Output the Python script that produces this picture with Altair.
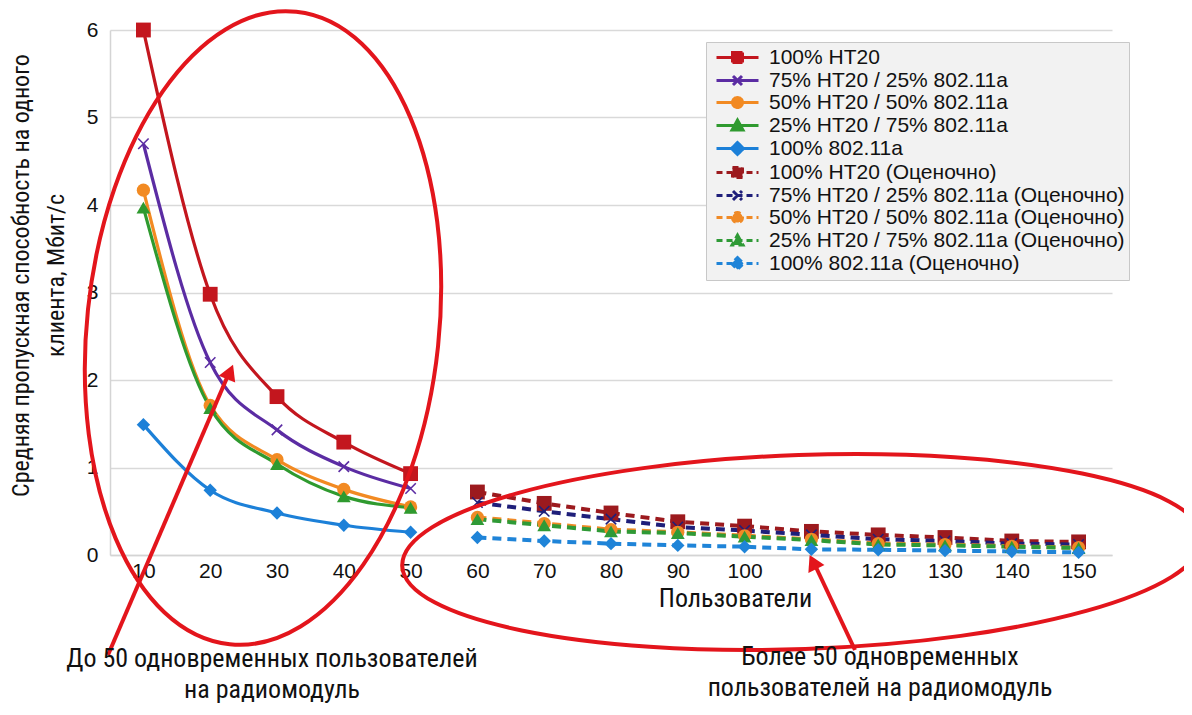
import altair as alt
import pandas as pd

# ---------------- data ----------------
users_measured = [10, 20, 30, 40, 50]
users_est = [60, 70, 80, 90, 100, 110, 120, 130, 140, 150]

base_names = ["100% HT20", "75% HT20 / 25% 802.11a", "50% HT20 / 50% 802.11a",
              "25% HT20 / 75% 802.11a", "100% 802.11a"]
est_suffix = " (Оценочно)"

measured = [
    [6.0, 2.98, 1.81, 1.29, 0.93],
    [4.7, 2.2, 1.43, 1.01, 0.76],
    [4.17, 1.71, 1.09, 0.75, 0.55],
    [3.97, 1.68, 1.04, 0.67, 0.54],
    [1.49, 0.74, 0.48, 0.34, 0.26],
]
estimated = [
    [0.72, 0.59, 0.48, 0.38, 0.33, 0.27, 0.23, 0.20, 0.16, 0.15],
    [0.60, 0.50, 0.41, 0.32, 0.28, 0.23, 0.18, 0.16, 0.13, 0.12],
    [0.43, 0.36, 0.29, 0.26, 0.22, 0.18, 0.13, 0.12, 0.10, 0.085],
    [0.41, 0.34, 0.27, 0.25, 0.21, 0.17, 0.12, 0.11, 0.095, 0.08],
    [0.20, 0.16, 0.13, 0.11, 0.095, 0.065, 0.06, 0.05, 0.04, 0.03],
]
markers = ["square", "x", "circle", "triangle", "diamond"]
colors_measured = ["#c3161e", "#5b2ca3", "#f28a22", "#2f9a2f", "#1c80d8"]
colors_est = ["#9c1a1e", "#1f1f7a", "#f08a26", "#2f9a36", "#1f84d8"]

x_ticks = list(range(10, 151, 10))
y_ticks = [0, 1, 2, 3, 4, 5, 6]

# ---------------- build table ----------------
rows = []
for i, name in enumerate(base_names):
    for u, v in zip(users_measured, measured[i]):
        rows.append({"users": u, "value": v, "series": name, "marker": markers[i]})
    for u, v in zip(users_est, estimated[i]):
        rows.append({"users": u, "value": v, "series": name + est_suffix, "marker": markers[i]})
df = pd.DataFrame(rows)

series_domain = base_names + [n + est_suffix for n in base_names]
color_range = colors_measured + colors_est
dash_range = [[1, 0]] * 5 + [[6, 4]] * 5

legend_paths = {
    "square": "M-2.1,0H2.1M-0.5,-0.5H0.5V0.5H-0.5Z",
    "x": "M-2.1,0H2.1M-0.45,-0.45L0.45,0.45M-0.45,0.45L0.45,-0.45",
    "circle": "M-2.1,0H2.1M-0.5,0A0.5,0.5 0 1,0 0.5,0A0.5,0.5 0 1,0 -0.5,0Z",
    "triangle": "M-2.1,0H2.1M0,-0.55L0.55,0.45H-0.55Z",
    "diamond": "M-2.1,0H2.1M0,-0.6L0.6,0L0,0.6L-0.6,0Z",
}
shape_range = [legend_paths[m] for m in markers] * 2

FONT = "Liberation Sans"
NARROW = "Roboto Condensed, Roboto"

x_scale = alt.Scale(domain=[5, 155], nice=False, zero=False)
y_scale = alt.Scale(domain=[0, 6], nice=False)
color_scale = alt.Scale(domain=series_domain, range=color_range)

X = alt.X("users:Q", scale=x_scale,
          axis=alt.Axis(values=x_ticks, labelExpr="datum.value == 110 ? '' : datum.label",
                        grid=False, ticks=False, domainColor="#d4d4d4", domainWidth=1.5,
                        labelFont=FONT, labelFontSize=21, labelColor="#111", labelPadding=5,
                        title="Пользователи", titleFont=NARROW, titleFontSize=26,
                        titleFontWeight="normal", titleColor="#111",
                        titleX=625, titleY=43, titleBaseline="middle", labelFlush=False))
Y = alt.Y("value:Q", scale=y_scale,
          axis=alt.Axis(values=y_ticks, grid=True, gridColor="#d9d9d9", gridWidth=1.5,
                        ticks=False, domainColor="#d4d4d4", domainWidth=1.5,
                        labelFont=FONT, labelFontSize=21, labelColor="#111", labelPadding=12,
                        title=["Средняя пропускная способность на одного", "клиента, Мбит/с"],
                        titleFont=NARROW, titleFontSize=24, titleFontWeight="normal",
                        titleColor="#111", titleLineHeight=35,
                        titleX=-101, titleY=245, titleBaseline="top", titleAngle=270))

base = alt.Chart(df)
color_enc = alt.Color("series:N", scale=color_scale,
                      legend=alt.Legend(orient="none", legendX=596, legendY=12, title=None,
                                        labelFont=FONT, labelFontSize=21, labelColor="#111",
                                        symbolSize=400, symbolStrokeWidth=3,
                                        symbolOffset=16, labelOffset=20,
                                        fillColor="#f2f2f2", strokeColor="#c8c8c8",
                                        padding=4, rowPadding=0,
                                        labelLimit=420))

measured_lines = base.transform_filter(
    alt.FieldOneOfPredicate(field="series", oneOf=base_names)
).mark_line(interpolate="monotone", strokeWidth=3.2).encode(
    x=X, y=Y, color=color_enc, detail="series:N",
)

est_lines = base.transform_filter(
    alt.FieldOneOfPredicate(field="series", oneOf=[n + est_suffix for n in base_names])
).mark_line(strokeWidth=4, strokeDash=[9, 6]).encode(
    x=X, y=Y, color=color_enc, detail="series:N",
)

shape_map = {
    "square": "square",
    "x": "M-0.8,-0.8L0.8,0.8M-0.8,0.8L0.8,-0.8",
    "circle": "circle",
    "triangle": "triangle-up",
    "diamond": "diamond",
}
size_map = {"square": 220, "x": 170, "circle": 175, "triangle": 190, "diamond": 180}
point_layers = []
for m in markers:
    is_x = (m == "x")
    point_layers.append(
        base.transform_filter(alt.datum.marker == m).mark_point(
            filled=not is_x, shape=shape_map[m], size=size_map[m],
            strokeWidth=1.6 if is_x else 0, opacity=1
        ).encode(x=X, y=Y, color=color_enc)
    )

legend_layer = base.transform_filter("false").mark_point(filled=False, strokeWidth=3).encode(
    x=X, y=Y,
    color=color_enc,
    fill=alt.Fill("series:N", scale=alt.Scale(domain=series_domain, range=color_range)),
    shape=alt.Shape("series:N", scale=alt.Scale(domain=series_domain, range=shape_range)),
    strokeDash=alt.StrokeDash("series:N", scale=alt.Scale(domain=series_domain, range=dash_range)),
)

# ---------------- annotations ----------------
RED = "#e3151c"
ann = pd.DataFrame({"k": [0]})
ann_base = alt.Chart(ann)

ellipse_left = ann_base.mark_point(
    shape="M-176,0A176,318 0 1,0 176,0A176,318 0 1,0 -176,0Z",
    size=4, filled=False, stroke=RED, strokeWidth=4, opacity=1, angle=6
).encode(x=alt.value(153), y=alt.value(298))

ellipse_right = ann_base.mark_point(
    shape="M-400,0A400,97 0 1,0 400,0A400,97 0 1,0 -400,0Z",
    size=4, filled=False, stroke=RED, strokeWidth=4, opacity=1, angle=358
).encode(x=alt.value(692), y=alt.value(522))

arrow_left = ann_base.mark_rule(color=RED, strokeWidth=4).encode(
    x=alt.value(-2), y=alt.value(625), x2=alt.value(119), y2=alt.value(343))
head_left = ann_base.mark_point(shape="triangle-up", size=320, filled=True, color=RED,
                                opacity=1, angle=23).encode(x=alt.value(120), y=alt.value(342))
arrow_right = ann_base.mark_rule(color=RED, strokeWidth=4).encode(
    x=alt.value(745), y=alt.value(620), x2=alt.value(704), y2=alt.value(533))
head_right = ann_base.mark_point(shape="triangle-up", size=320, filled=True, color=RED,
                                 opacity=1, angle=334).encode(x=alt.value(703), y=alt.value(532))

text_style = dict(font=NARROW, fontSize=26, color="#111", align="center", baseline="middle")
txt_left = ann_base.mark_text(lineHeight=31, **text_style).encode(
    x=alt.value(162), y=alt.value(629),
    text=alt.value(["До 50 одновременных пользователей", "на радиомодуль"]))
txt_right = ann_base.mark_text(lineHeight=31, **text_style).encode(
    x=alt.value(770), y=alt.value(627),
    text=alt.value(["Более 50 одновременных", "пользователей на радиомодуль"]))

chart = alt.layer(
    measured_lines, est_lines, *point_layers, legend_layer,
    ellipse_left, ellipse_right, arrow_left, head_left, arrow_right, head_right,
    txt_left, txt_right,
).properties(
    width=1002, height=525,
    autosize=alt.AutoSizeParams(type="none"),
    padding={"left": 102, "top": 22, "right": 72, "bottom": 150},
    background="white",
).configure_view(stroke=None)

chart.save("out.html", embed_options={"renderer": "svg", "actions": False})
